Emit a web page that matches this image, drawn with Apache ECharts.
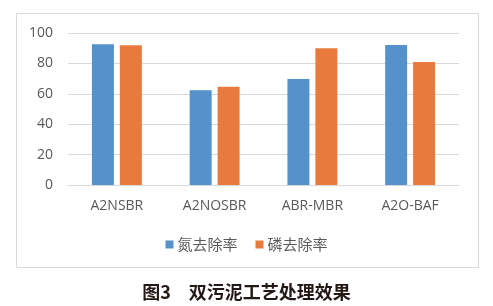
<!DOCTYPE html>
<html><head><meta charset="utf-8">
<script src="https://cdn.jsdelivr.net/npm/echarts@6/dist/echarts.min.js"></script>
<style>html,body{margin:0;padding:0;background:#fff}#c{width:493px;height:306px}</style>
</head><body><div id="c"></div>
<script>
const categories = ['A2NSBR', 'A2NOSBR', 'ABR-MBR', 'A2O-BAF'];
const nitrogen = [92.6, 62.3, 69.7, 92.1];
const phosphorus = [91.9, 64.7, 89.9, 80.9];
const seriesNames = ['氮去除率', '磷去除率'];
const yTicks = { min: 0, max: 100, interval: 20 };
const titleText = '图3　双污泥工艺处理效果';

const chart = echarts.init(document.getElementById('c'), null, {renderer: 'canvas'});
const font = '"Open Sans", "Noto Sans CJK SC", sans-serif';
chart.setOption({
  animation: false,
  graphic: [{
    type: 'rect', shape: {x: 16.5, y: 13.5, width: 462, height: 254},
    style: {fill: 'none', stroke: '#d9d9d9', lineWidth: 1}, silent: true
  }],
  title: {
    text: titleText, left: 'center', top: 278,
    textStyle: {fontSize: 18, fontWeight: 'bold', color: '#231815', fontFamily: '"Noto Sans CJK SC", sans-serif'}
  },
  legend: {
    data: seriesNames, top: 232, left: 'center', itemWidth: 8, itemHeight: 8, itemGap: 18,
    icon: 'rect',
    textStyle: {fontSize: 15, color: '#595959', fontFamily: '"Noto Sans CJK SC", sans-serif', padding: [0,0,0,-1]}
  },
  grid: {left: 68, right: 34, top: 33, bottom: 121, containLabel: false},
  xAxis: {
    type: 'category', data: categories,
    axisLine: {lineStyle: {color: '#d9d9d9'}}, axisTick: {show: false},
    axisLabel: {color: '#595959', fontSize: 14, margin: 14, fontFamily: font}
  },
  yAxis: {
    type: 'value', min: yTicks.min, max: yTicks.max, interval: yTicks.interval,
    axisLine: {show: false}, axisTick: {show: false},
    splitLine: {lineStyle: {color: '#d9d9d9'}},
    axisLabel: {color: '#595959', fontSize: 14, margin: 15, fontFamily: font}
  },
  series: [
    {name: seriesNames[0], type: 'bar', data: nitrogen, barWidth: 22, barGap: '27%', itemStyle: {color: '#5592cb'}},
    {name: seriesNames[1], type: 'bar', data: phosphorus, barWidth: 22, itemStyle: {color: '#e97a3e'}}
  ]
});
</script></body></html>
